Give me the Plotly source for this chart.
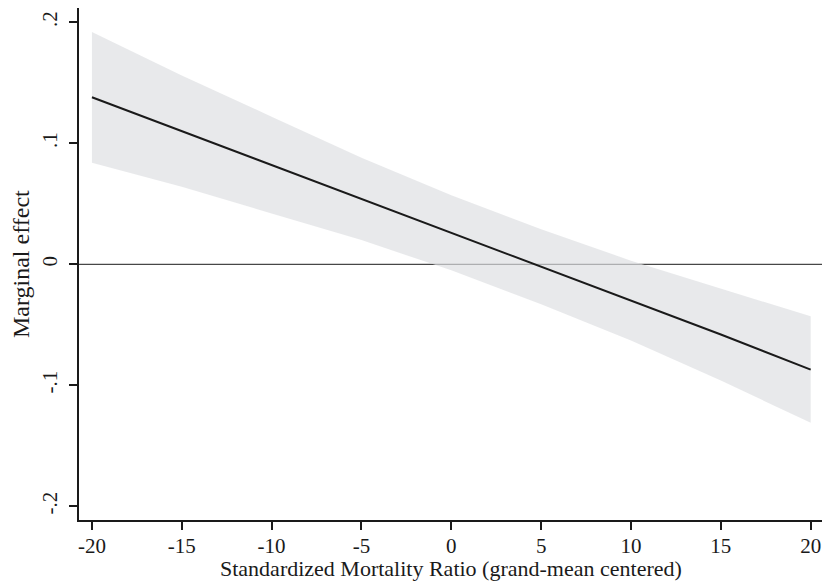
import plotly.graph_objects as go

smr = [-20, -15, -10, -5, 0, 5, 10, 15, 20]
effect = [0.138, 0.110, 0.082, 0.054, 0.026, -0.002, -0.030, -0.058, -0.087]
ci_upper = [0.192, 0.156, 0.122, 0.088, 0.057, 0.029, 0.003, -0.020, -0.043]
ci_lower = [0.084, 0.064, 0.042, 0.020, -0.005, -0.033, -0.063, -0.096, -0.131]

x_ticks = [-20, -15, -10, -5, 0, 5, 10, 15, 20]
x_tick_labels = ["-20", "-15", "-10", "-5", "0", "5", "10", "15", "20"]
y_ticks = [-0.2, -0.1, 0, 0.1, 0.2]
y_tick_labels = ["-.2", "-.1", "0", ".1", ".2"]

FONT = "Liberation Serif, Times New Roman, serif"
INK = "#1a1a1a"
FS = 21

fig = go.Figure()
fig.add_trace(go.Scatter(x=smr, y=ci_upper, mode="lines", line=dict(width=0),
                         showlegend=False, hoverinfo="skip"))
fig.add_trace(go.Scatter(x=smr, y=ci_lower, mode="lines", line=dict(width=0),
                         fill="tonexty", fillcolor="rgba(221,222,225,0.68)",
                         showlegend=False, hoverinfo="skip"))
fig.add_trace(go.Scatter(x=smr, y=effect, mode="lines",
                         line=dict(color=INK, width=2), showlegend=False))

fig.add_shape(type="line", xref="paper", yref="y", x0=0, x1=1, y0=0, y1=0,
              line=dict(color=INK, width=1), layer="below")

fig.add_annotation(text="Standardized Mortality Ratio (grand-mean centered)",
                   xref="paper", yref="paper", x=0.5, y=0, yshift=-34,
                   xanchor="center", yanchor="top", showarrow=False,
                   font=dict(size=22, family=FONT, color=INK))
fig.add_annotation(text="Marginal effect", textangle=-90,
                   xref="paper", yref="paper", x=0, y=0.5, xshift=-43,
                   xanchor="right", yanchor="middle", showarrow=False,
                   font=dict(size=24, family=FONT, color=INK))

fig.update_layout(
    width=823, height=587,
    margin=dict(l=79, r=1, t=8, b=67),
    paper_bgcolor="white", plot_bgcolor="white",
    font=dict(family=FONT, color=INK, size=FS),
    showlegend=False,
    xaxis=dict(range=[-20.72, 20.63], tickvals=x_ticks, ticktext=x_tick_labels,
               showgrid=False, zeroline=False, automargin=False,
               showline=True, linecolor=INK, linewidth=2, ticks="outside", ticklen=8,
               tickwidth=2, tickcolor=INK, tickfont=dict(size=FS, family=FONT),
               ticklabelstandoff=-2),
    yaxis=dict(range=[-0.2113, 0.2118], tickvals=y_ticks, ticktext=y_tick_labels,
               tickangle=-90, showgrid=False, zeroline=False, automargin=False,
               showline=True, linecolor=INK, linewidth=2, ticks="outside", ticklen=8,
               tickwidth=2, tickcolor=INK, tickfont=dict(size=FS, family=FONT),
               ticklabelstandoff=4),
)

fig.write_html("out.html", config={"displayModeBar": False},
               post_script="document.body.style.margin='0';document.body.style.overflow='hidden';")
